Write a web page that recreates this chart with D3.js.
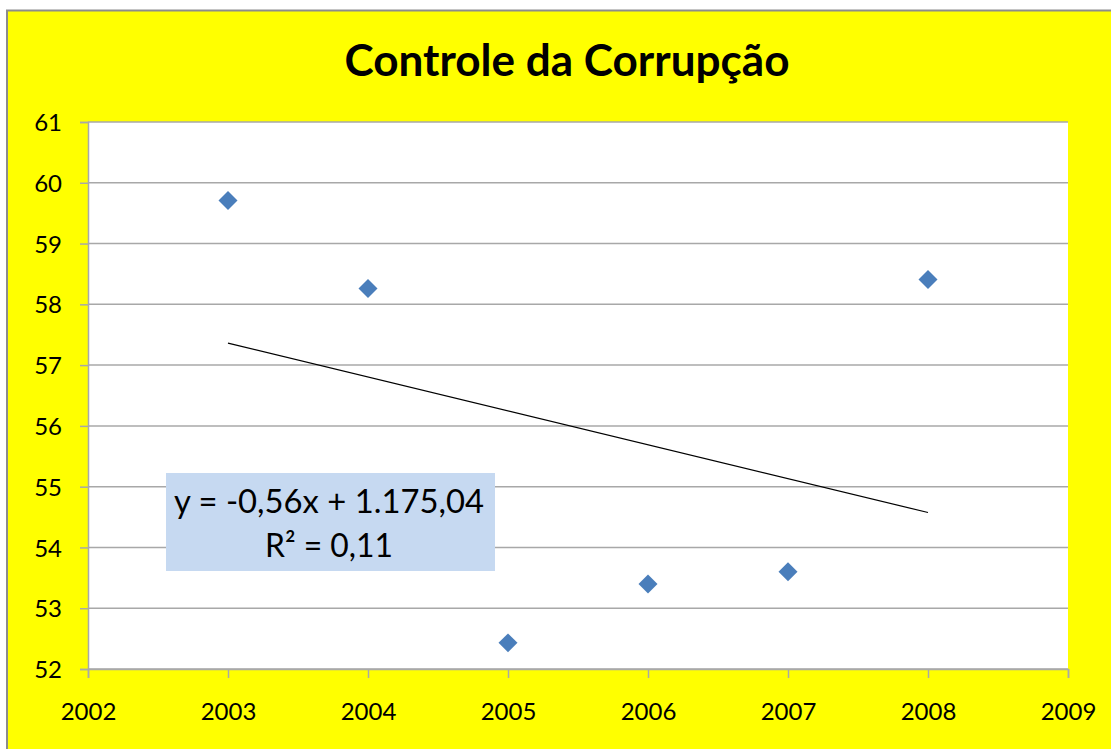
<!DOCTYPE html>
<html>
<head>
<meta charset="utf-8">
<script src="https://cdn.jsdelivr.net/npm/d3@7"></script>
<style>
  html, body { margin: 0; padding: 0; background: #ffffff; }
  svg { display: block; }
</style>
</head>
<body>
<svg id="chart" width="1111" height="749"></svg>
<script>
// Índice de Controle da Corrupção por ano
const years = [2003, 2004, 2005, 2006, 2007, 2008];
const values = [59.71, 58.26, 52.43, 53.40, 53.60, 58.41];
const xTicks = [2002, 2003, 2004, 2005, 2006, 2007, 2008, 2009];
const yTicks = [52, 53, 54, 55, 56, 57, 58, 59, 60, 61];
const title = "Controle da Corrupção";
const equationLines = ["y = -0,56x + 1.175,04", "R² = 0,11"];

const svg = d3.select("#chart");
const W = 1111, H = 749;
const plot = { left: 88, right: 1068, top: 122, bottom: 669 };

// fundo do gráfico
svg.append("rect").attr("x", 7).attr("y", 10).attr("width", W - 7).attr("height", H - 10)
  .attr("fill", "#ffff00");
svg.append("path").attr("d", `M7,${H} V10.5 H${W}`)
  .attr("fill", "none").attr("stroke", "#8c8c8c").attr("stroke-width", 2);

// área de plotagem
svg.append("rect").attr("x", plot.left).attr("y", plot.top)
  .attr("width", plot.right - plot.left).attr("height", plot.bottom - plot.top)
  .attr("fill", "#ffffff");

const x = d3.scaleLinear().domain([2002, 2009]).range([plot.left, plot.right]);
const y = d3.scaleLinear().domain([52, 61]).range([plot.bottom, plot.top]);

const gridColor = "#a8a8a8";
const labelFont = "Lato, sans-serif";

// linhas de grade horizontais
svg.append("g").selectAll("line").data(yTicks).join("line")
  .attr("x1", plot.left).attr("x2", plot.right)
  .attr("y1", d => y(d)).attr("y2", d => y(d))
  .attr("stroke", gridColor).attr("stroke-width", 1.5);

// eixo Y
const yAxis = svg.append("g").attr("transform", `translate(${plot.left},0)`)
  .call(d3.axisLeft(y).tickValues(yTicks).tickSize(8).tickPadding(18).tickFormat(d3.format("d")));
yAxis.select(".domain").attr("stroke", gridColor).attr("stroke-width", 1.5);
yAxis.selectAll(".tick line").attr("stroke", gridColor).attr("stroke-width", 1.5);
yAxis.selectAll("text").attr("font-family", labelFont).attr("font-size", 24)
  .attr("fill", "#000").attr("dy", "0.36em");

// eixo X
const xAxis = svg.append("g").attr("transform", `translate(0,${plot.bottom})`)
  .call(d3.axisBottom(x).tickValues(xTicks).tickSize(9).tickPadding(25).tickFormat(d3.format("d")));
xAxis.select(".domain").attr("stroke", gridColor).attr("stroke-width", 1.5);
xAxis.selectAll(".tick line").attr("stroke", gridColor).attr("stroke-width", 1.5);
xAxis.selectAll("text").attr("font-family", labelFont).attr("font-size", 24)
  .attr("fill", "#000").attr("dy", "0.71em");

// linha de tendência (mínimos quadrados)
const mx = d3.mean(years), my = d3.mean(values);
const sxy = d3.sum(years, (v, i) => (v - mx) * (values[i] - my));
const sxx = d3.sum(years, v => (v - mx) * (v - mx));
const slope = sxy / sxx, intercept = my - slope * mx;
const x0 = d3.min(years), x1 = d3.max(years);
svg.append("line")
  .attr("x1", x(x0)).attr("y1", y(slope * x0 + intercept))
  .attr("x2", x(x1)).attr("y2", y(slope * x1 + intercept))
  .attr("stroke", "#000").attr("stroke-width", 1.2);

// pontos
const diamond = d3.symbol().type(d3.symbolSquare).size(180);
svg.append("g").selectAll("path").data(years).join("path")
  .attr("d", diamond)
  .attr("transform", (d, i) => `translate(${x(d)},${y(values[i])}) rotate(45)`)
  .attr("fill", "#4a7ebb");

// rótulo da equação
const box = svg.append("g");
box.append("rect").attr("x", 166).attr("y", 473).attr("width", 329).attr("height", 98)
  .attr("fill", "#c6d9f1");
const eqLen = [310, 128];
const eqBase = [513, 557];
equationLines.forEach((t, i) => {
  box.append("text").attr("x", 329).attr("y", eqBase[i]).attr("text-anchor", "middle")
    .attr("font-family", labelFont).attr("font-size", 33).attr("fill", "#000")
    .attr("textLength", eqLen[i]).attr("lengthAdjust", "spacingAndGlyphs")
    .text(t);
});

// título
svg.append("text").attr("x", 567).attr("y", 76).attr("text-anchor", "middle")
  .attr("font-family", labelFont).attr("font-weight", "bold").attr("font-size", 43)
  .attr("textLength", 445).attr("lengthAdjust", "spacingAndGlyphs")
  .attr("fill", "#000").text(title);
</script>
</body>
</html>
